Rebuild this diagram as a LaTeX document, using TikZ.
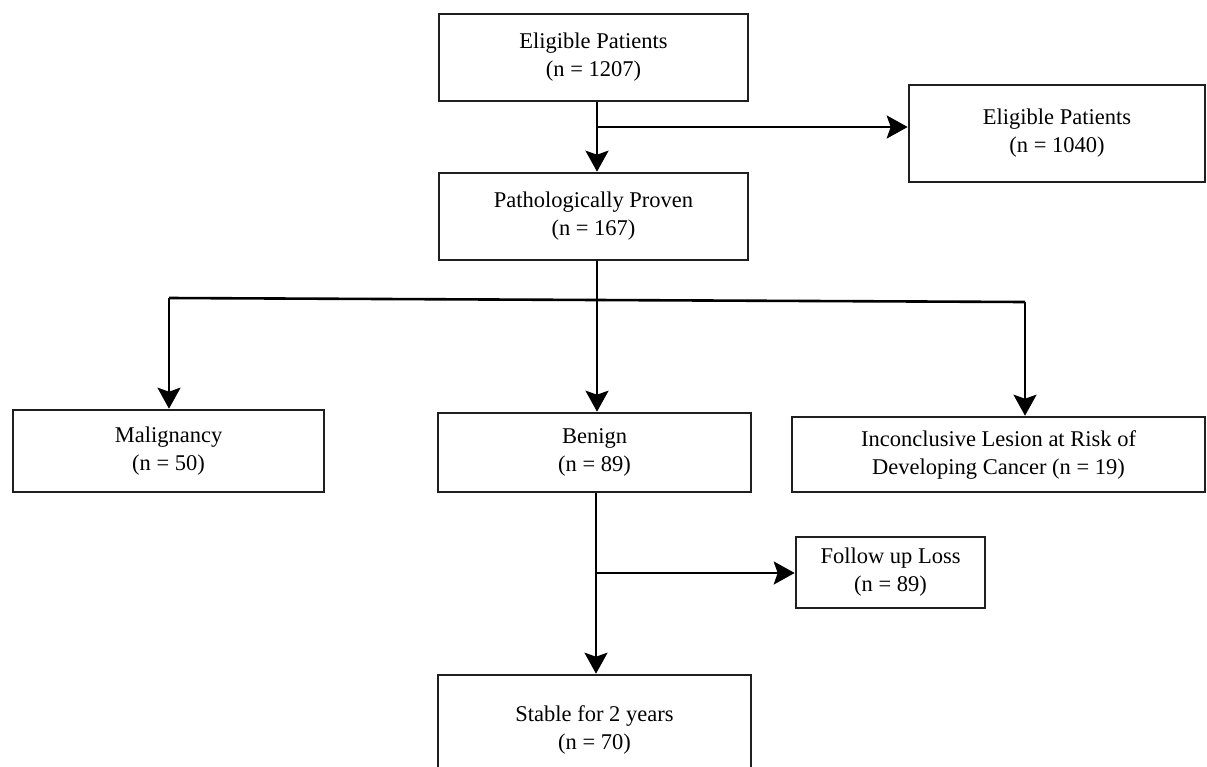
\documentclass[tikz,border=0pt]{standalone}
\usepackage{fontspec}
\setmainfont{Liberation Serif}
\usetikzlibrary{arrows.meta}
\begin{document}
\begin{tikzpicture}[x=1pt,y=-1pt,
  box/.style={draw=black!88,line width=2.6pt,align=center,inner sep=0pt,
    font=\fontsize{22.5}{28}\selectfont},
  conn/.style={line width=2.6pt,black},
  arr/.style={conn,-{Stealth[length=21pt,width=23pt,inset=4pt]}}]
\clip (0,0) rectangle (1207,766);
\fill[white] (0,0) rectangle (1207,766);
\node[box,minimum width=309pt,minimum height=87pt] (A) at (593.5,57.5) {Eligible Patients\\(n = 1207)};
\node[box,minimum width=296pt,minimum height=97pt] (B) at (1057,133.5) {Eligible Patients\\(n = 1040)};
\node[box,minimum width=309pt,minimum height=87pt] (C) at (593.5,216.5) {Pathologically Proven\\(n = 167)};
\node[box,minimum width=311pt,minimum height=82pt] (D) at (168.5,451) {Malignancy\\(n = 50)};
\node[box,minimum width=313pt,minimum height=79pt] (E) at (594.5,452.5) {Benign\\(n = 89)};
\node[box,minimum width=413pt,minimum height=75pt] (F) at (998.5,454.5) {Inconclusive Lesion at Risk of\\Developing Cancer (n = 19)};
\node[box,minimum width=189pt,minimum height=71pt] (G) at (890.5,572.5) {Follow up Loss\\(n = 89)};
\node[box,minimum width=313pt,minimum height=110pt] (H) at (594.5,730) {Stable for 2 years\\(n = 70)};
\coordinate (a1) at (597,127);
\coordinate (bl) at (169,298);
\coordinate (bm) at (597,300);
\coordinate (br) at (1025,302);
\coordinate (e1) at (596,573);
\draw[arr] (A.south -| a1) -- (C.north -| a1);
\draw[arr] (a1) -- (B.west |- a1);
\draw[conn] (bl) -- (br);
\draw[arr] (bl) -- (D.north -| bl);
\draw[arr] (C.south -| bm) -- (E.north -| bm);
\draw[arr] (br) -- (F.north -| br);
\draw[arr] (E.south -| e1) -- (H.north -| e1);
\draw[arr] (e1) -- (G.west |- e1);
\end{tikzpicture}
\end{document}
